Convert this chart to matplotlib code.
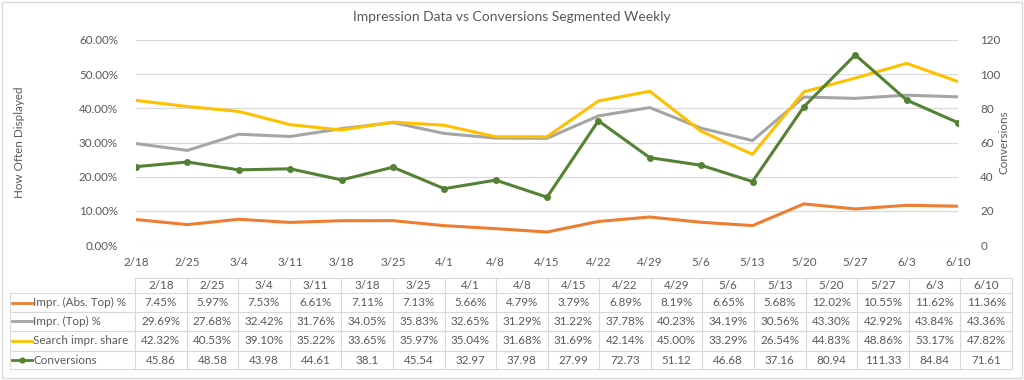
import matplotlib
matplotlib.use("Agg")
import matplotlib.pyplot as plt
from matplotlib.patches import Rectangle
from matplotlib.ticker import FuncFormatter, MultipleLocator

plt.rcParams['font.family'] = ['Lato', 'DejaVu Sans']

categories = ["2/18", "2/25", "3/4", "3/11", "3/18", "3/25", "4/1", "4/8", "4/15",
              "4/22", "4/29", "5/6", "5/13", "5/20", "5/27", "6/3", "6/10"]
abs_top = [7.45, 5.97, 7.53, 6.61, 7.11, 7.13, 5.66, 4.79, 3.79, 6.89, 8.19, 6.65,
           5.68, 12.02, 10.55, 11.62, 11.36]
top = [29.69, 27.68, 32.42, 31.76, 34.05, 35.83, 32.65, 31.29, 31.22, 37.78, 40.23,
       34.19, 30.56, 43.30, 42.92, 43.84, 43.36]
search_share = [42.32, 40.53, 39.10, 35.22, 33.65, 35.97, 35.04, 31.68, 31.69, 42.14,
                45.00, 33.29, 26.54, 44.83, 48.86, 53.17, 47.82]
conversions = [45.86, 48.58, 43.98, 44.61, 38.1, 45.54, 32.97, 37.98, 27.99, 72.73,
               51.12, 46.68, 37.16, 80.94, 111.33, 84.84, 71.61]

series_names = ["Impr. (Abs. Top) %", "Impr. (Top) %", "Search impr. share", "Conversions"]
colors = ["#ED7D31", "#A5A5A5", "#FFC000", "#548235"]

W, H = 1024, 380
TXT = "#595959"
GRID = "#D9D9D9"
FS = 8.4

fig = plt.figure(figsize=(W / 100, H / 100), dpi=100)

# overlay axes in pixel coordinates for border and table
ov = fig.add_axes([0, 0, 1, 1], zorder=0)
ov.set_xlim(0, W)
ov.set_ylim(H, 0)
ov.axis('off')
ov.add_patch(Rectangle((1.5, 1.5), W - 4, H - 4, fill=False, edgecolor="#D9D9D9", lw=1))

# main axes
px_l, px_r, px_t, px_b = 136, 958, 40, 245
ax = fig.add_axes([px_l / W, (H - px_b) / H, (px_r - px_l) / W, (px_b - px_t) / H], zorder=2)
ax.patch.set_alpha(0)
x = list(range(len(categories)))
ax.plot(x, abs_top, color=colors[0], lw=2.2, solid_joinstyle='round')
ax.plot(x, top, color=colors[1], lw=2.2, solid_joinstyle='round')
ax.plot(x, search_share, color=colors[2], lw=2.2, solid_joinstyle='round')
ax.set_xlim(0, len(categories) - 1)
ax.set_ylim(0, 60)
ax.yaxis.set_major_locator(MultipleLocator(10))
ax.yaxis.set_major_formatter(FuncFormatter(lambda v, p: f"{v:.2f}%"))
ax.set_xticks(x)
ax.set_xticklabels(categories)
ax.grid(axis='y', color=GRID, lw=0.9)
ax.set_axisbelow(True)
for s in ax.spines.values():
    s.set_visible(False)
ax.tick_params(axis='both', length=0, labelsize=FS, labelcolor=TXT)
ax.tick_params(axis='y', pad=13)
ax.tick_params(axis='x', pad=9)
ax.set_ylabel("How Often Displayed", fontsize=FS, color=TXT, labelpad=0)
ax.yaxis.set_label_coords((25 - px_l) / (px_r - px_l), 0.5)

ax2 = ax.twinx()
ax2.plot(x, conversions, color=colors[3], lw=2.2, marker='o', ms=4, solid_joinstyle='round')
ax2.set_ylim(0, 120)
ax2.yaxis.set_major_locator(MultipleLocator(20))
for s in ax2.spines.values():
    s.set_visible(False)
ax2.tick_params(axis='y', length=0, labelsize=FS, labelcolor=TXT, pad=16)
ax2.set_ylabel("Conversions", fontsize=FS, color=TXT)
ax2.yaxis.set_label_coords((999 - px_l) / (px_r - px_l), 0.5)

fig.text(0.5, 1 - 17 / H, "Impression Data vs Conversions Segmented Weekly",
         ha='center', va='center', fontsize=10, color=TXT)

# data table
t_l, t_c, t_r = 10, 135, 1012
rows_y = [277.7, 293.3, 311.7, 331.0, 350.7, 369.3]
ncol = len(categories)
cw = (t_r - t_c) / ncol
ov.plot([t_c, t_r], [rows_y[0], rows_y[0]], color=GRID, lw=0.8)
for yy in rows_y[1:]:
    ov.plot([t_l, t_r], [yy, yy], color=GRID, lw=0.8)
ov.plot([t_l, t_l], [rows_y[1], rows_y[-1]], color=GRID, lw=0.8)
for i in range(ncol + 1):
    xx = t_c + i * cw
    ov.plot([xx, xx], [rows_y[0], rows_y[-1]], color=GRID, lw=0.8)

for i, c in enumerate(categories):
    ov.text(t_c + (i + 0.5) * cw, (rows_y[0] + rows_y[1]) / 2, c, ha='center', va='center',
            fontsize=FS, color=TXT)

row_vals = [
    [f"{v:.2f}%" for v in abs_top],
    [f"{v:.2f}%" for v in top],
    [f"{v:.2f}%" for v in search_share],
    [f"{v:g}" for v in conversions],
]
for r, (name, vals) in enumerate(zip(series_names, row_vals)):
    yc = (rows_y[r + 1] + rows_y[r + 2]) / 2
    ov.plot([12, 32], [yc, yc], color=colors[r], lw=2)
    if r == 3:
        ov.plot([22], [yc], marker='o', ms=3.5, color=colors[r])
    ov.text(33, yc, name, ha='left', va='center', fontsize=FS, color=TXT)
    for i, v in enumerate(vals):
        ov.text(t_c + (i + 0.5) * cw, yc, v, ha='center', va='center', fontsize=FS, color=TXT)

fig.savefig("out.png", dpi=100)
